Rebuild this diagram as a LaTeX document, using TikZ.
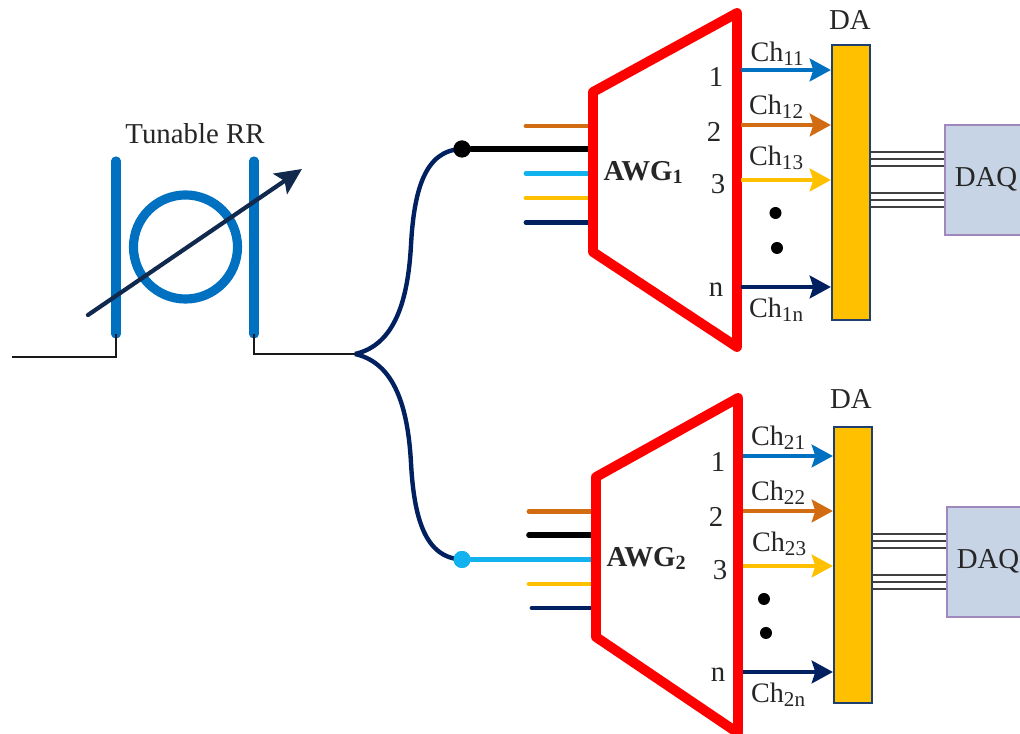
\documentclass[tikz,border=0pt]{standalone}
\usepackage{fontspec}
\setmainfont{Liberation Serif}
\usetikzlibrary{arrows.meta}

\definecolor{rrblue}{HTML}{0070C0}
\definecolor{chorange}{HTML}{D26C12}
\definecolor{chyellow}{HTML}{FFC000}
\definecolor{chnavy}{HTML}{002060}
\definecolor{chcyan}{HTML}{12B2EE}
\definecolor{tunenavy}{HTML}{10294D}
\definecolor{daqfill}{HTML}{C7D4E6}
\definecolor{daqedge}{HTML}{A088BC}
\definecolor{daedge}{HTML}{1F3F6F}

\tikzset{
    txt/.style={font=\fontsize{8.2}{10}\selectfont,text=black!85,inner sep=0pt},
    chlabel/.style={font=\fontsize{8}{10}\selectfont,text=black!85,inner sep=0pt},
    awglabel/.style={font=\bfseries\fontsize{8.2}{10}\selectfont,text=black!85,inner sep=0pt},
    awgedge/.style={draw=red,line width=2.8pt,line join=round},
    stub/.style={line width=1.35pt,line cap=round},
    chan/.style={line width=1.35pt,-{Stealth[length=6pt,width=6.4pt,inset=1pt]}},
    thin wire/.style={black!75,line width=0.7pt},
    wire/.style={black!90,line width=0.7pt},
    bus/.style={rrblue,line width=2.6pt,line cap=round},
    splitter/.style={chnavy,line width=1.25pt},
    dabox/.style={draw=daedge,fill=chyellow,line width=0.6pt,minimum width=0.38cm,minimum height=2.75cm,inner sep=0pt},
    daqbox/.style={draw=daqedge,fill=daqfill,line width=0.7pt,minimum width=0.82cm,minimum height=1.1cm,inner sep=0pt},
    dot/.style={circle,fill=black,inner sep=0pt,minimum size=0.12cm},
    tap/.style={circle,inner sep=0pt,minimum size=0.17cm}
}

\begin{document}
\begin{tikzpicture}[x=0.01cm,y=-0.01cm]
    \useasboundingbox (0,0) rectangle (1020,734);

    % tunable ring
    \node[txt] (rrlabel) at (195,134) {Tunable RR};
    \coordinate (busLtop) at (116,161);
    \coordinate (busLbot) at (116,334);
    \coordinate (busRtop) at (254,161);
    \coordinate (busRbot) at (254,334);
    \draw[bus] (busLtop) -- (busLbot);
    \draw[bus] (busRtop) -- (busRbot);
    \node[circle,draw=rrblue,line width=2.6pt,minimum size=1.04cm,inner sep=0pt] (ring) at (185.5,247) {};
    \coordinate (tuneS) at (88,315);
    \coordinate (tuneE) at (302,169);
    \draw[tunenavy,line width=1.2pt,line cap=round,-{Stealth[length=7.5pt,width=7pt,inset=1.5pt]}] (tuneS) -- (tuneE);

    % input and output fibre
    \coordinate (inS) at (12,357);
    \coordinate (split) at (355,354);
    \draw[wire] (inS) -| (busLbot);
    \draw[wire] (busRbot) |- (split);

    % splitter
    \node[tap,fill=black] (tapA) at (462,149) {};
    \node[tap,fill=chcyan] (tapB) at (462,559.5) {};
    \draw[splitter] (split) .. controls (395,345) and (408,300) .. (411,245) .. controls (414,190) and (425,150) .. (tapA.center);
    \draw[splitter] (split) .. controls (395,363) and (408,408) .. (411,463) .. controls (414,518) and (425,558) .. (tapB.center);
    \node[tap,fill=black] at (tapA) {};
    \node[tap,fill=chcyan] at (tapB) {};

    % first branch
    \begin{scope}
        \coordinate (awgAtl) at (593,92);
        \coordinate (awgAtr) at (737,13);
        \coordinate (awgAbr) at (737,347);
        \coordinate (awgAbl) at (593,252);
        \coordinate (stubAa) at (526,126);
        \coordinate (stubAc) at (526,173.5);
        \coordinate (stubAd) at (526,198);
        \coordinate (stubAe) at (526,222.5);
        \draw[stub,chorange] (stubAa) -- (stubAa -| awgAtl);
        \draw[stub,black,line width=1.6pt] (tapA) -- (tapA -| awgAtl);
        \draw[stub,chcyan] (stubAc) -- (stubAc -| awgAtl);
        \draw[stub,chyellow] (stubAd) -- (stubAd -| awgAtl);
        \draw[stub,chnavy] (stubAe) -- (stubAe -| awgAtl);
        \draw[awgedge] (awgAtl) -- (awgAtr) -- (awgAbr) -- (awgAbl) -- cycle;
        \node[awglabel] (awgA) at (644,172.5) {AWG\textsubscript{1}};
        \node[txt] (portAa) at (716,77) {1};
        \node[txt] (portAb) at (714,132) {2};
        \node[txt] (portAc) at (718,184) {3};
        \node[txt] (portAn) at (716,289.5) {n};
        \node[dot] (dotAa) at (775.5,213) {};
        \node[dot] (dotAb) at (777,248) {};
        \node[dabox] (daA) at (851,182.5) {};
        \node[txt] (daAlabel) at (850,20) {DA};
        \node[daqbox] (daqA) at (986,180) {};
        \node[txt] at (986,179) {DAQ};
        \coordinate (chAa) at (741,70);
        \coordinate (chAb) at (741,125);
        \coordinate (chAc) at (741,180);
        \coordinate (chAn) at (741,287);
        \draw[chan,rrblue] (chAa) -- (chAa -| daA.west);
        \draw[chan,chorange] (chAb) -- (chAb -| daA.west);
        \draw[chan,chyellow] (chAc) -- (chAc -| daA.west);
        \draw[chan,chnavy] (chAn) -- (chAn -| daA.west);
        \node[chlabel] (lblAa) at (778,53.5) {Ch\textsubscript{11}};
        \node[chlabel] (lblAb) at (777,106.5) {Ch\textsubscript{12}};
        \node[chlabel] (lblAc) at (777,157.5) {Ch\textsubscript{13}};
        \node[chlabel] (lblAn) at (777,310) {Ch\textsubscript{1n}};
        \foreach \y in {152,159,166,193,200,207}
            \draw[thin wire] (daA.east |- 0,\y) -- (daqA.west |- 0,\y);
    \end{scope}

    % second branch
    \begin{scope}[shift={(2,384)}]
        \coordinate (awgBtl) at (594,93);
        \coordinate (awgBtr) at (736,14);
        \coordinate (awgBbr) at (736,349);
        \coordinate (awgBbl) at (594,253);
        \coordinate (stubBa) at (527,127.5);
        \coordinate (stubBb) at (527,151);
        \coordinate (stubBd) at (527,200);
        \coordinate (stubBe) at (530,224);
        \draw[stub,chorange] (stubBa) -- (stubBa -| awgBtl);
        \draw[stub,black,line width=1.6pt] (stubBb) -- (stubBb -| awgBtl);
        \draw[stub,chcyan] (tapB) -- (tapB -| awgBtl);
        \draw[stub,chyellow] (stubBd) -- (stubBd -| awgBtl);
        \draw[stub,chnavy] (stubBe) -- (stubBe -| awgBtl);
        \draw[awgedge] (awgBtl) -- (awgBtr) -- (awgBbr) -- (awgBbl) -- cycle;
        \node[awglabel] (awgB) at (645,174.5) {AWG\textsubscript{2}};
        \node[txt] (portBa) at (716,78) {1};
        \node[txt] (portBb) at (714,133) {2};
        \node[txt] (portBc) at (718,186) {3};
        \node[txt] (portBn) at (716,290.5) {n};
        \node[dot] (dotBa) at (762,215) {};
        \node[dot] (dotBb) at (764,249) {};
        \node[dabox] (daB) at (851,181) {};
        \node[txt] (daBlabel) at (849,15) {DA};
        \node[daqbox] (daqB) at (986,178) {};
        \node[txt] at (986,177.5) {DAQ};
        \coordinate (chBa) at (741,72);
        \coordinate (chBb) at (741,127);
        \coordinate (chBc) at (741,182);
        \coordinate (chBn) at (741,288);
        \draw[chan,rrblue] (chBa) -- (chBa -| daB.west);
        \draw[chan,chorange] (chBb) -- (chBb -| daB.west);
        \draw[chan,chyellow] (chBc) -- (chBc -| daB.west);
        \draw[chan,chnavy] (chBn) -- (chBn -| daB.west);
        \node[chlabel] (lblBa) at (777,53.5) {Ch\textsubscript{21}};
        \node[chlabel] (lblBb) at (777,108.5) {Ch\textsubscript{22}};
        \node[chlabel] (lblBc) at (778,159.5) {Ch\textsubscript{23}};
        \node[chlabel] (lblBn) at (777,311) {Ch\textsubscript{2n}};
        \foreach \y in {150,157,164,191,198,205}
            \draw[thin wire] (daB.east |- 0,\y) -- (daqB.west |- 0,\y);
    \end{scope}
\end{tikzpicture}
\end{document}
